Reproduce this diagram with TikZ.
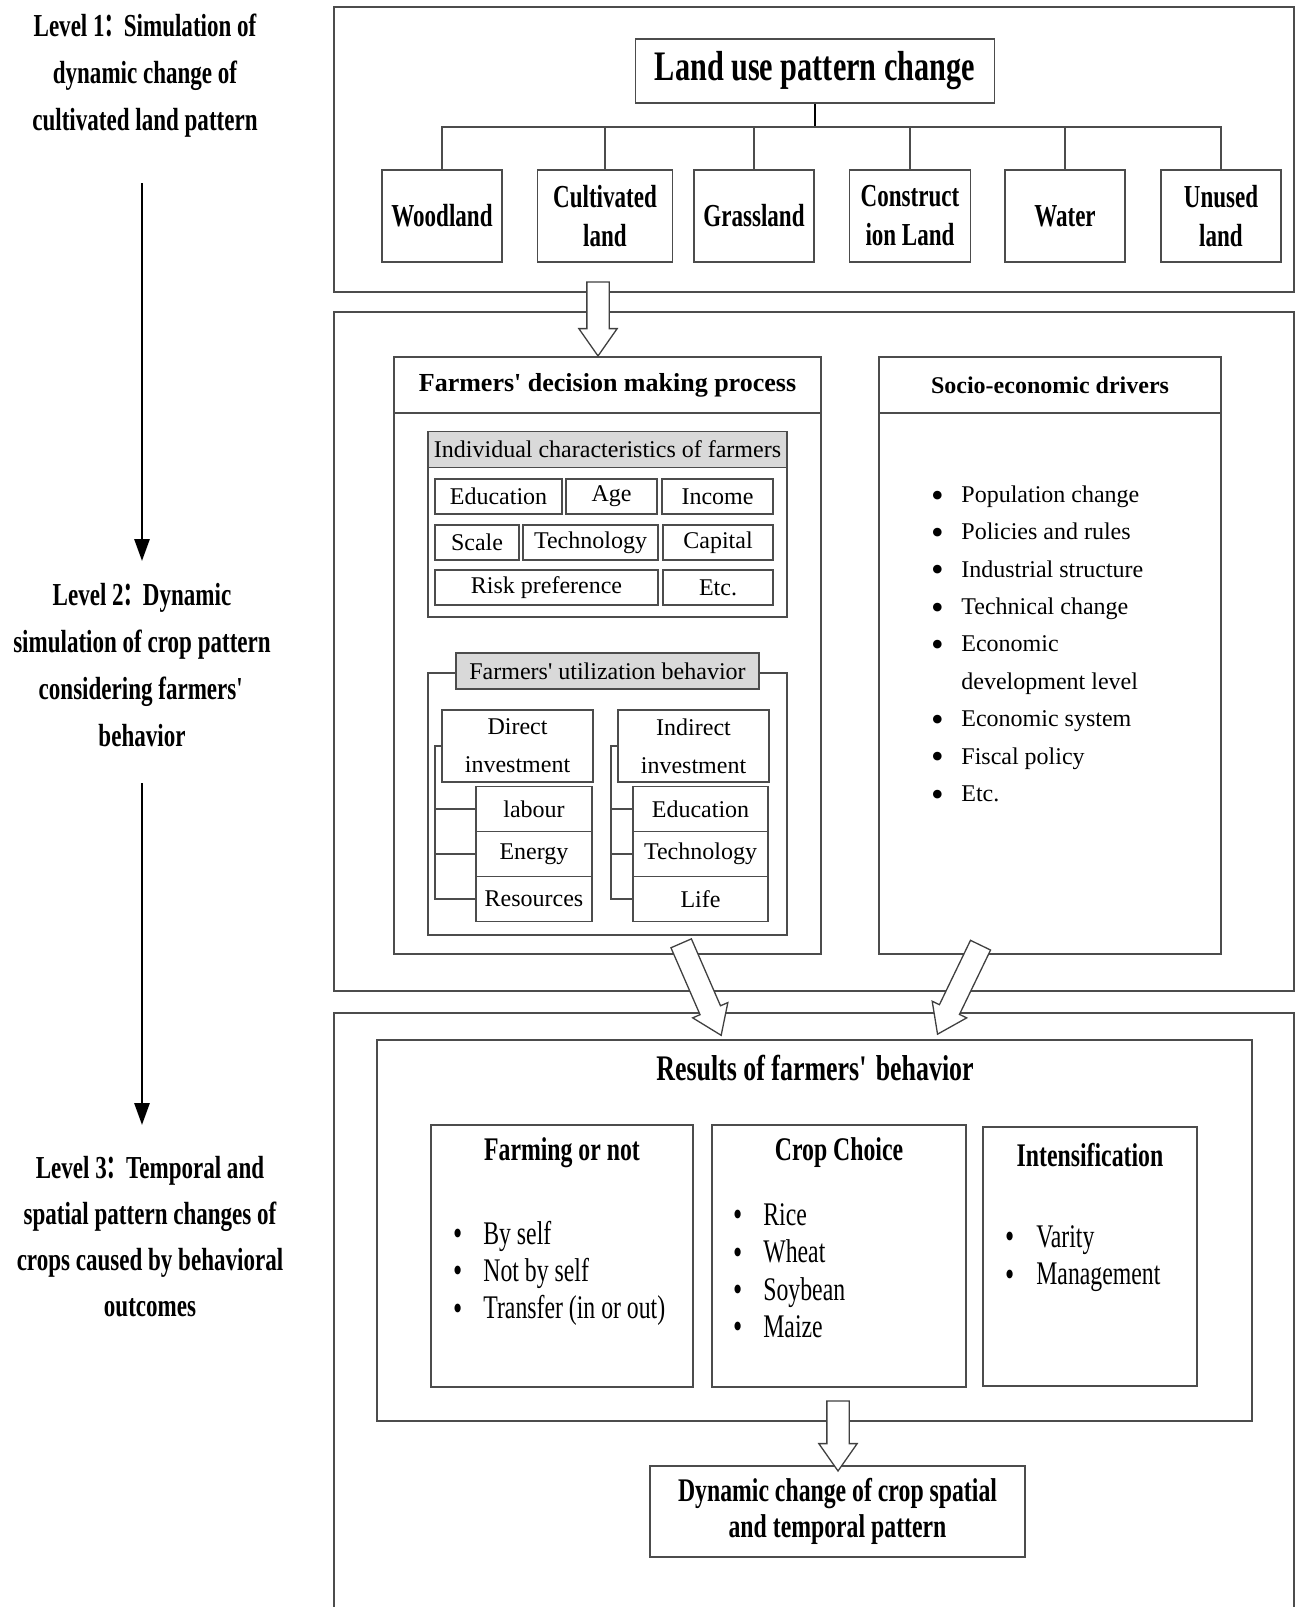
\documentclass[tikz,border=0pt]{standalone}
\usepackage{fontspec}
\setmainfont{Liberation Serif}
\newfontfamily\narrowfont[FakeStretch=0.72]{Liberation Serif}
\newfontfamily\cjk[FakeStretch=0.6]{Noto Sans CJK SC}
\usetikzlibrary{shapes.arrows,arrows.meta,calc}

\newcommand{\bul}{\raisebox{-0.2em}[0pt][0pt]{\scalebox{1.5}{\textbullet}}}
\newcommand{\smallbul}{\raisebox{-0.04em}[0pt][0pt]{\scalebox{1.1}{\textbullet}}}

\tikzset{
  panel/.style={draw=black!70, line width=2pt},
  plainbox/.style={draw=black!70, line width=1.5pt, inner sep=0pt, align=center},
  landbox/.style={plainbox, minimum width=120pt, minimum height=92pt,
    font=\narrowfont\bfseries\fontsize{32}{39}\selectfont},
  headbox/.style={plainbox, minimum width=427pt, minimum height=56pt},
  cell/.style={plainbox, line width=1.3pt, minimum height=35pt, font=\fontsize{24}{38}\selectfont},
  graybar/.style={cell, fill=gray!30, minimum height=36pt},
  itembox/.style={cell, minimum height=45pt},
  resbox/.style={plainbox, minimum height=262pt},
  restitle/.style={font=\narrowfont\bfseries\fontsize{33}{36}\selectfont},
  levellabel/.style={align=center, font=\narrowfont\bfseries\fontsize{32}{47}\selectfont},
  levelarrow/.style={line width=2.8pt, -{Triangle[length=22pt,width=15pt]}},
  tree/.style={draw=black!70, line width=1.5pt},
  bigarrow/.style={single arrow, draw=black!75, fill=white, line width=1.3pt,
    inner xsep=0pt, inner ysep=10.5pt, minimum width=37pt,
    single arrow head extend=8pt, single arrow tip angle=70},
  bullets/.style={inner sep=0pt, anchor=west}
}

\begin{document}
\begin{tikzpicture}[x=1pt,y=-1pt]
\useasboundingbox (0,0) rectangle (1296,1607);

% levels on the left
\node[levellabel] (level1) at (145,76) {Level 1{\cjk ：}Simulation of\\dynamic change of\\cultivated land pattern};
\node[levellabel] (level2) at (142,665) {Level 2{\cjk ：}Dynamic\\simulation of crop pattern\\considering farmers\textquotesingle\\behavior};
\node[levellabel, font=\narrowfont\bfseries\fontsize{32}{46}\selectfont] (level3) at (150,1237) {Level 3{\cjk ：}Temporal and\\spatial pattern changes of\\crops caused by behavioral\\outcomes};
\coordinate (t1) at (142,183);
\coordinate (h1) at (142,561);
\coordinate (t2) at (142,783);
\coordinate (h2) at (142,1125);
\draw[levelarrow] (t1) -- (h1);
\draw[levelarrow] (t2) -- (h2);

% top part: land use
\draw[panel] (334,7) rectangle (1294,292);
\node[plainbox, minimum width=359pt, minimum height=64pt,
  font=\narrowfont\bfseries\fontsize{42}{46}\selectfont] (landuse) at (815,71) {Land use pattern change};
\node[landbox] (woodland) at (442,216) {Woodland};
\node[landbox, minimum width=135pt] (cultivated) at (605,216) {Cultivated\\land};
\node[landbox] (grassland) at (754,216) {Grassland};
\node[landbox, minimum width=121pt] (construction) at (910,216) {Construct\\ion Land};
\node[landbox] (water) at (1065,216) {Water};
\node[landbox] (unused) at (1221,216) {Unused\\land};
\coordinate (bus) at (815,127);
\draw[line width=2pt] (landuse) -- (bus);
\foreach \n in {woodland,cultivated,grassland,construction,water,unused}
  \draw[tree] (\n.north) |- (bus);

% middle part
\draw[panel] (334,312) rectangle (1294,991);

% farmers decision
\node[headbox, font=\bfseries\fontsize{26}{30}\selectfont] (decisionhead) at (607.5,385) {Farmers\textquotesingle{} decision making process};
\node[plainbox, minimum width=427pt, minimum height=541pt] (decisionbody) at (607.5,683.5) {};

\node[plainbox, line width=1.3pt, minimum width=359pt, minimum height=185pt] (indiv) at (607.5,524.5) {};
\node[graybar, minimum width=359pt] (indivtitle) at (607.5,449.5) {Individual characteristics of farmers};
\node[cell, minimum width=127pt] (educ) at (498.5,496.5) {Education};
\node[cell, minimum width=91pt] (age) at (611.5,496.5) {Age};
\node[cell, minimum width=111pt] (income) at (717.5,496.5) {Income};
\node[cell, minimum width=84pt] (scale) at (477,542.5) {Scale};
\node[cell, minimum width=135pt] (techno) at (590.5,542.5) {Technology};
\node[cell, minimum width=110pt] (capital) at (718,542.5) {Capital};
\node[cell, minimum width=223pt] (risk) at (546.5,587.5) {Risk preference};
\node[cell, minimum width=110pt] (etcetera) at (718,587.5) {Etc.};

\node[plainbox, line width=1.3pt, minimum width=359pt, minimum height=262pt] (util) at (607.5,804) {};
\node[graybar, minimum width=303pt] (utiltitle) at (607.5,671) {Farmers\textquotesingle{} utilization behavior};

\node[cell, minimum width=151pt, minimum height=72pt] (direct) at (517.5,746) {Direct\\investment};
\node[itembox, minimum width=116pt] (labour) at (534,809) {labour};
\node[itembox, minimum width=116pt] (energy) at (534,854) {Energy};
\node[itembox, minimum width=116pt] (resources) at (534,899) {Resources};
\coordinate (dbr) at (435,746);
\draw[tree, line width=1.3pt] (direct.west) -- (dbr) |- (resources.west);
\foreach \n in {labour,energy}
  \draw[tree, line width=1.3pt] (\n.west) -- (\n.west -| dbr);

\node[cell, minimum width=151pt, minimum height=72pt] (indirect) at (693.5,746) {Indirect\\investment};
\node[itembox, minimum width=135pt] (educ2) at (700.5,809) {Education};
\node[itembox, minimum width=135pt] (techno2) at (700.5,854) {Technology};
\node[itembox, minimum width=135pt] (life) at (700.5,899) {Life};
\coordinate (ibr) at (611,746);
\draw[tree, line width=1.3pt] (indirect.west) -- (ibr) |- (life.west);
\foreach \n in {educ2,techno2}
  \draw[tree, line width=1.3pt] (\n.west) -- (\n.west -| ibr);

% socio-economic drivers
\node[headbox, minimum width=342pt, font=\bfseries\fontsize{24}{28}\selectfont] (sociohead) at (1050,385) {Socio-economic drivers};
\node[plainbox, minimum width=342pt, minimum height=541pt] (sociobody) at (1050,683.5) {};
\node[bullets, font=\fontsize{24}{37.4}\selectfont] (drivers) at (931,644.5) {%
  \begin{tabular}{@{}l@{\hspace{17.6pt}}l@{}}
  \bul & Population change\\
  \bul & Policies and rules\\
  \bul & Industrial structure\\
  \bul & Technical change\\
  \bul & Economic\\
       & development level\\
  \bul & Economic system\\
  \bul & Fiscal policy\\
  \bul & Etc.
  \end{tabular}};

% bottom part
\draw[panel] (334,1607) -- (334,1013) -- (1294,1013) -- (1294,1607);
\node[plainbox, minimum width=875pt, minimum height=381pt] (results) at (814.5,1230.5) {};
\node[font=\narrowfont\bfseries\fontsize{36}{40}\selectfont] (resultstitle) at (815,1068) {Results of farmers\textquotesingle{} behavior};

\node[resbox, minimum width=262pt] (farming) at (562,1256) {};
\node[restitle] (farmingtitle) at (562,1153) {Farming or not};
\node[bullets, font=\narrowfont\fontsize{33}{37.4}\selectfont] (farmlist) at (453,1274) {%
  \begin{tabular}{@{}l@{\hspace{21pt}}l@{}}
  \smallbul & By self\\
  \smallbul & Not by self\\
  \smallbul & Transfer (in or out)
  \end{tabular}};

\node[resbox, minimum width=254pt] (crop) at (839,1256) {};
\node[restitle] (croptitle) at (839,1153) {Crop Choice};
\node[bullets, font=\narrowfont\fontsize{33}{37.4}\selectfont] (croplist) at (733,1274) {%
  \begin{tabular}{@{}l@{\hspace{21pt}}l@{}}
  \smallbul & Rice\\
  \smallbul & Wheat\\
  \smallbul & Soybean\\
  \smallbul & Maize
  \end{tabular}};

\node[resbox, minimum width=214pt, minimum height=259pt] (intens) at (1090,1256.5) {};
\node[restitle] (intenstitle) at (1090,1155) {Intensification};
\node[bullets, font=\narrowfont\fontsize{33}{37.4}\selectfont] (intlist) at (1005,1258.5) {%
  \begin{tabular}{@{}l@{\hspace{22pt}}l@{}}
  \smallbul & Varity\\
  \smallbul & Management
  \end{tabular}};

\node[plainbox, minimum width=375pt, minimum height=91pt,
  font=\narrowfont\bfseries\fontsize{33}{36}\selectfont] (pattern) at (837.5,1511.5) {Dynamic change of crop spatial\\and temporal pattern};

% hollow arrows between the parts
\coordinate (ha1s) at (598,274);
\coordinate (ha1e) at (598,348);
\coordinate (ha2s) at (678,936);
\coordinate (ha2e) at (718,1028);
\coordinate (ha3s) at (984,938);
\coordinate (ha3e) at (941,1027);
\coordinate (ha4s) at (838,1393);
\coordinate (ha4e) at (838,1463);
\foreach \s/\e in {ha1s/ha1e,ha2s/ha2e,ha3s/ha3e,ha4s/ha4e}
  \path let \p1=($(\e)-(\s)$), \n1={atan2(\y1,\x1)}, \n2={veclen(\x1,\y1)} in
    node[bigarrow, minimum height=\n2, rotate=\n1] at ($(\s)!0.5!(\e)$) {};

\end{tikzpicture}
\end{document}
